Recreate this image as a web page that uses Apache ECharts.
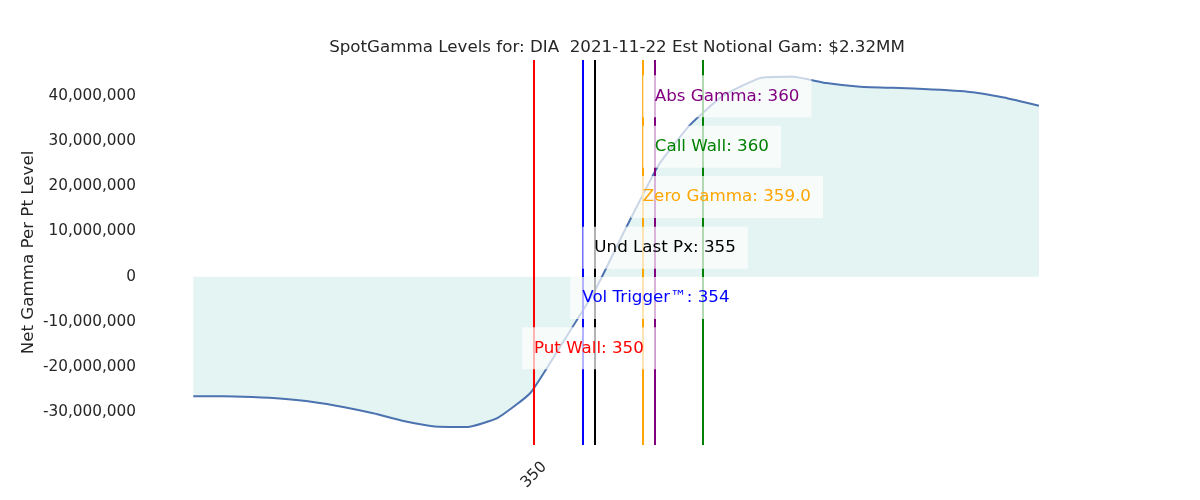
<!DOCTYPE html>
<html>
<head>
<meta charset="utf-8">
<title>SpotGamma Levels</title>
<script src="https://cdn.jsdelivr.net/npm/echarts@6/dist/echarts.min.js"></script>
<style>
    html, body { margin: 0; padding: 0; background: #fff; }
    #main { width: 1200px; height: 500px; }
</style>
</head>
<body>
<div id="main"></div>
<script>
// 行权价 (x)
var strikes = [321.8, 324.2, 326.7, 329.2, 331.7, 334.2, 336.7, 339.2, 341.8, 344.5, 347.0, 349.7, 352.3,
    355.0, 357.6, 360.3, 362.9, 365.6, 368.7, 371.4, 374.2, 377.0, 381.4, 385.9, 388.9, 391.8];
// 每点净Gamma (单位: 百万)
var netGammaMM = [-26.4, -26.4, -26.6, -27.0, -27.7, -28.8, -30.2, -31.9, -33.1, -33.2, -31.2, -25.7, -14.9,
    -3.3, 10.7, 24.6, 33.5, 39.9, 43.9, 44.2, 42.8, 42.0, 41.6, 40.9, 39.6, 37.8];
// 关键价位 (竖线位置 / 标签上的数值)
var levelNames = ['Put Wall', 'Vol Trigger™', 'Und Last Px', 'Zero Gamma', 'Call Wall', 'Abs Gamma'];
var levelValues = [350, 354, 355, 359, 364, 360];
var levelLabels = ['350', '354', '355', '359.0', '360', '360'];
// 刻度
var xTickLabels = [350];
var yTickLabels = [-30000000, -20000000, -10000000, 0, 10000000, 20000000, 30000000, 40000000];

var GammaChart = function() {
    var t = {
        levelColors : ['#ff0000', '#0000ff', '#000000', '#ffa500', '#008000', '#800080'],
        // 标签框的纵向位置 (数据坐标, 百万)
        labelAnchorY : [-15.8, -4.7, 6.4, 17.6, 28.7, 39.9],
        init : function(container) {
            t.chart = echarts.init(document.getElementById(container));
            t.renderChart();
        },
        fmtNum : function(v) {
            var s = Math.abs(Math.round(v)).toString().replace(/\B(?=(\d{3})+(?!\d))/g, ',');
            return (v < 0 ? '-' : '') + s;
        },
        renderChart : function() {
            var lineData = [];
            for (var i = 0; i < strikes.length; i++) {
                lineData.push([strikes[i], netGammaMM[i] * 1e6]);
            }
            var markData = [];
            var labelData = [];
            for (var j = 0; j < levelNames.length; j++) {
                markData.push({
                    xAxis : levelValues[j],
                    lineStyle : { color : t.levelColors[j], width : 2, type : 'solid' }
                });
                // 标签按显示的数值定位
                labelData.push({
                    value : [parseFloat(levelLabels[j]), t.labelAnchorY[j] * 1e6],
                    label : {
                        color : t.levelColors[j],
                        formatter : levelNames[j] + ': ' + levelLabels[j]
                    }
                });
            }
            var option = {
                animation : false,
                textStyle : { fontFamily : 'DejaVu Sans' },
                title : {
                    text : 'SpotGamma Levels for: DIA  2021-11-22 Est Notional Gam: $2.32MM',
                    left : 612,
                    top : 34,
                    textAlign : 'center',
                    textStyle : { fontSize : 16.7, fontWeight : 'normal', color : '#262626', fontFamily : 'DejaVu Sans' }
                },
                grid : { left : 151, right : 120, top : 60, bottom : 55 },
                xAxis : {
                    type : 'value',
                    min : 318.3,
                    max : 395.2,
                    axisLine : { show : false },
                    axisTick : { show : false },
                    splitLine : { show : false },
                    axisLabel : {
                        customValues : xTickLabels,
                        rotate : 45,
                        align : 'center',
                        verticalAlign : 'middle',
                        margin : 30,
                        fontSize : 15.3,
                        color : '#262626'
                    }
                },
                yAxis : {
                    type : 'value',
                    min : -37200000,
                    max : 47900000,
                    name : 'Net Gamma Per Pt Level',
                    nameLocation : 'middle',
                    nameGap : 114,
                    nameMoveOverlap : false,
                    nameTextStyle : { fontSize : 16.7, color : '#262626' },
                    axisLine : { show : false },
                    axisTick : { show : false },
                    splitLine : { show : false },
                    axisLabel : {
                        customValues : yTickLabels,
                        margin : 15,
                        fontSize : 15.3,
                        color : '#262626',
                        formatter : function(v) { return t.fmtNum(v); }
                    }
                },
                series : [ {
                    type : 'line',
                    data : lineData,
                    smooth : 0.15,
                    symbol : 'none',
                    z : 2,
                    lineStyle : { color : '#4c72b0', width : 2 },
                    areaStyle : { color : '#e4f4f2', opacity : 1 },
                    markLine : {
                        silent : true,
                        symbol : 'none',
                        label : { show : false },
                        data : markData
                    }
                }, {
                    type : 'scatter',
                    data : labelData,
                    symbolSize : 0,
                    z : 10,
                    silent : true,
                    itemStyle : { opacity : 1 },
                    label : {
                        show : true,
                        position : [-12, 0],
                        align : 'left',
                        verticalAlign : 'middle',
                        fontSize : 16.7,
                        lineHeight : 18,
                        padding : [12, 12],
                        backgroundColor : 'rgba(255,255,255,0.7)'
                    }
                } ]
            };
            t.chart.setOption(option);
        }
    };
    return t;
}();

GammaChart.init('main');
</script>
</body>
</html>
